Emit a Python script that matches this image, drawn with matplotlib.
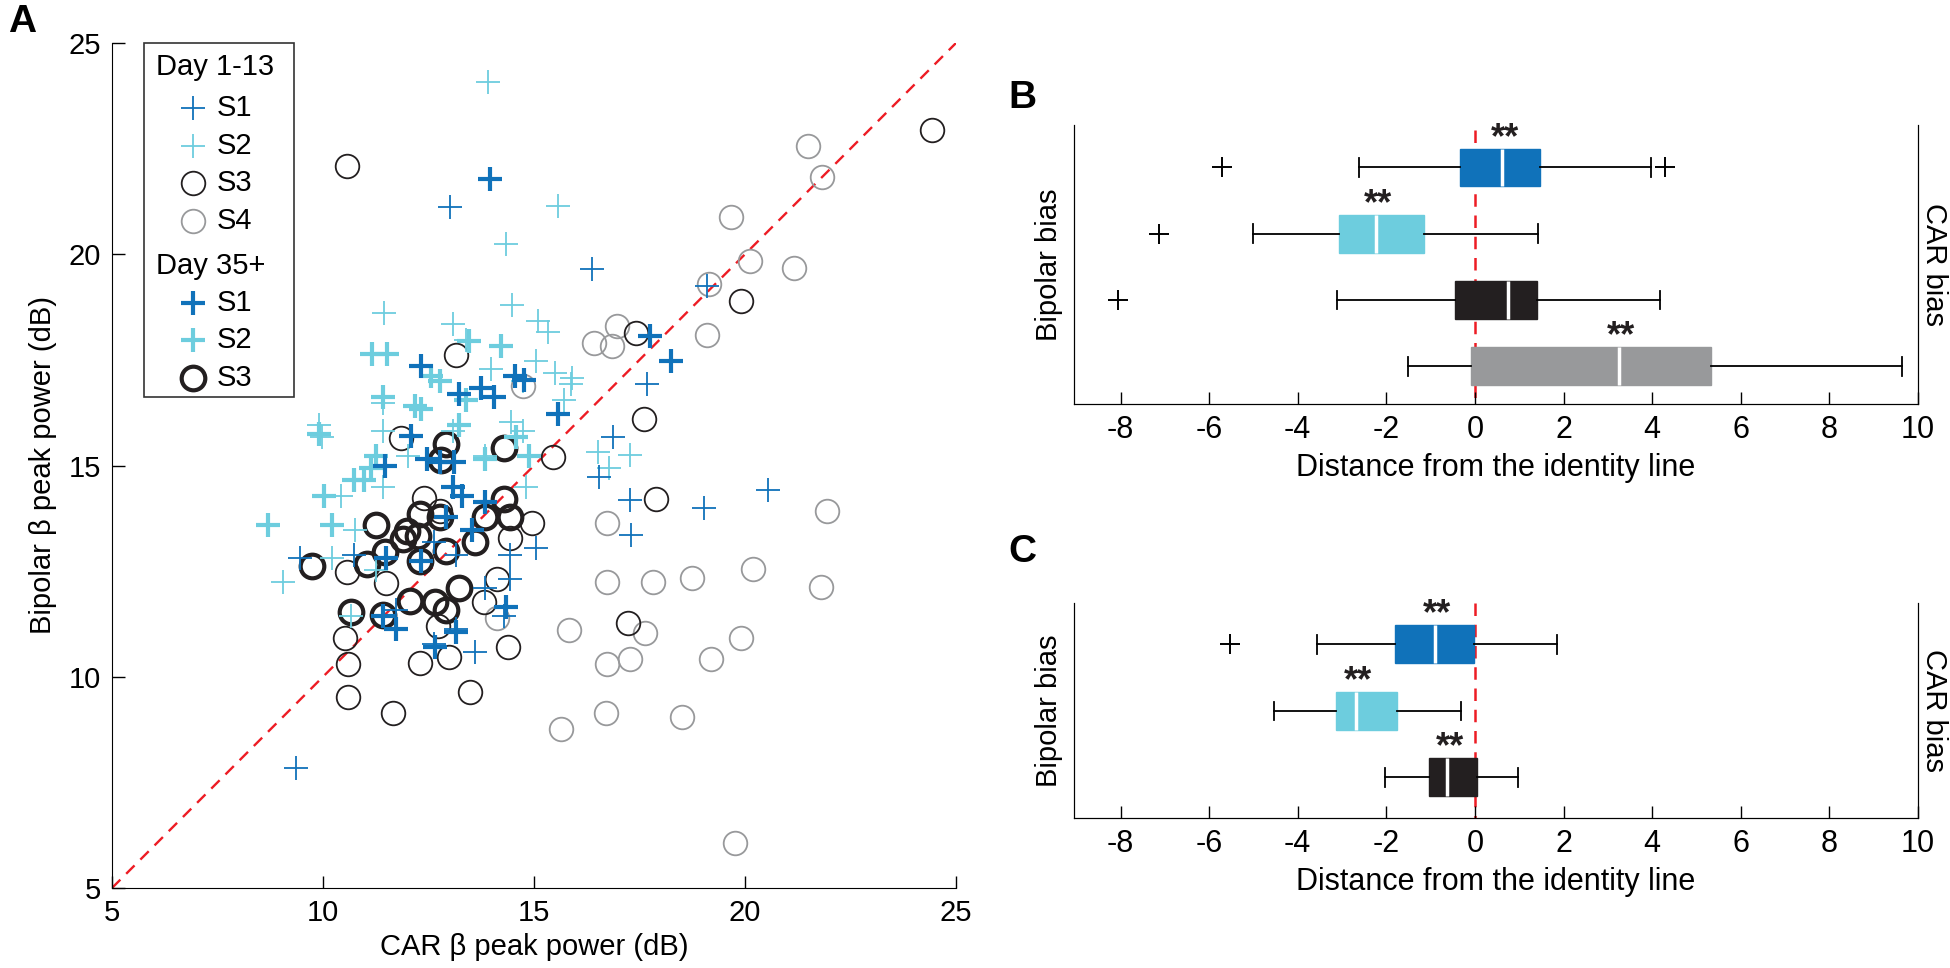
import matplotlib
matplotlib.use("Agg")
import matplotlib.pyplot as plt
from matplotlib import font_manager
from matplotlib.patches import Rectangle
from matplotlib.lines import Line2D

# ---- data: panel A (CAR vs bipolar beta peak power, dB) ----
s1_early_x = [13.0, 16.37, 19.11, 17.68, 16.88, 16.55, 17.27, 17.30, 19.04, 20.55, 9.35, 14.43,
              15.04, 13.60, 12.62, 13.15, 13.83, 11.72, 9.45, 10.74, 14.43, 14.28, 13.15, 12.62]
s1_early_y = [21.11, 19.65, 19.25, 16.92, 15.67, 14.72, 14.18, 13.36, 13.99, 14.43, 7.85, 12.89,
              13.04, 10.58, 10.77, 11.14, 12.09, 11.58, 12.82, 12.89, 12.31, 11.43, 12.89, 13.19]
s2_early_x = [13.91, 15.57, 14.33, 14.48, 11.45, 13.08, 15.09, 15.34, 13.38, 15.04, 15.49, 15.91,
              13.98, 9.91, 9.98, 11.42, 12.02, 10.43, 10.75, 9.05, 11.42, 13.08, 13.83, 14.46,
              14.74, 16.52, 17.27, 16.77, 14.81, 15.72, 15.87, 11.42, 14.74, 10.21, 10.66, 11.26]
s2_early_y = [24.08, 21.15, 20.25, 18.79, 18.60, 18.35, 18.41, 18.16, 17.98, 17.47, 17.18, 17.06,
              17.28, 15.96, 15.67, 15.82, 15.23, 14.28, 13.48, 12.24, 14.50, 15.82, 15.23, 16.04,
              15.82, 15.31, 15.26, 14.94, 14.50, 16.55, 16.92, 16.48, 16.99, 12.82, 11.43, 12.53]
s3_early_x = [10.58, 24.43, 19.90, 17.60, 17.88, 17.42, 17.23, 15.46, 13.14, 11.84, 10.58, 10.52,
              10.60, 10.60, 11.66, 12.30, 12.98, 13.48, 14.39, 14.12, 13.82, 11.50, 12.40, 14.96,
              14.43, 12.73, 12.77]
s3_early_y = [22.08, 22.94, 18.89, 16.10, 14.21, 18.14, 11.27, 15.19, 17.62, 15.64, 12.49, 10.91,
              10.29, 9.52, 9.15, 10.32, 10.47, 9.63, 10.70, 12.31, 11.76, 12.22, 14.24, 13.63,
              13.29, 11.21, 13.92]
s4_early_x = [21.50, 21.83, 19.67, 20.12, 21.15, 19.14, 19.11, 16.97, 16.43, 16.85, 14.74, 21.95,
              16.73, 16.73, 17.83, 18.75, 20.20, 21.80, 15.82, 17.63, 19.91, 16.73, 17.27, 19.19,
              16.70, 15.64, 18.51, 19.76, 14.13]
s4_early_y = [22.57, 21.84, 20.89, 19.84, 19.68, 19.30, 18.10, 18.30, 17.89, 17.84, 16.87, 13.92,
              13.63, 12.24, 12.24, 12.34, 12.56, 12.12, 11.11, 11.04, 10.92, 10.29, 10.41, 10.41,
              9.14, 8.76, 9.05, 6.07, 11.39]
s1_late_x = [13.95, 17.75, 18.24, 12.32, 14.55, 14.77, 13.75, 13.23, 14.06, 15.57, 12.09, 11.46,
             12.47, 12.77, 13.11, 13.08, 13.30, 13.83, 12.92, 13.53, 12.32, 11.72, 13.15, 14.33,
             12.65, 11.42, 11.49]
s1_late_y = [21.78, 18.06, 17.47, 17.35, 17.13, 17.02, 16.84, 16.70, 16.62, 16.23, 15.70, 14.99,
             15.16, 15.09, 15.09, 14.50, 14.28, 14.14, 13.77, 13.48, 12.75, 11.14, 11.07, 11.65,
             10.70, 11.43, 12.82]
s2_late_x = [8.70, 9.91, 10.03, 10.21, 10.74, 11.16, 11.51, 11.42, 11.26, 12.32, 12.55, 12.77,
             13.45, 14.21, 13.23, 13.83, 12.17, 13.38, 14.58, 14.89, 11.14, 10.96]
s2_late_y = [13.60, 15.75, 14.28, 13.60, 14.65, 17.65, 17.65, 16.62, 15.23, 16.33, 17.11, 16.99,
             17.94, 17.84, 15.96, 15.16, 16.40, 16.55, 15.67, 15.23, 14.94, 14.65]
s3_late_x = [9.75, 10.66, 11.25, 11.43, 12.06, 12.65, 12.92, 12.92, 12.80, 14.28, 14.28, 13.83,
             14.43, 13.60, 13.23, 11.46, 12.00, 12.30, 12.25, 12.77, 12.92, 12.30, 11.04, 11.90]
s3_late_y = [12.63, 11.54, 13.58, 11.46, 11.80, 11.78, 11.58, 15.50, 15.12, 15.42, 14.21, 13.77,
             13.77, 13.19, 12.09, 12.95, 13.45, 13.85, 13.33, 13.77, 12.97, 12.75, 12.68, 13.26]

# ---- data: panels B and C (distance from identity line), rows top to bottom ----
b_labels = ["S1", "S2", "S3", "S4"]
b_whislo = [-2.61, -5.00, -3.12, -1.51]
b_q1 = [-0.34, -3.06, -0.45, -0.09]
b_med = [0.62, -2.23, 0.74, 3.25]
b_q3 = [1.47, -1.15, 1.39, 5.33]
b_whishi = [3.97, 1.43, 4.18, 9.65]
b_fliers = [[-5.72, 4.30], [-7.14], [-8.06], []]
b_signif = [True, True, False, True]

c_labels = ["S1", "S2", "S3"]
c_whislo = [-3.56, -4.53, -2.03]
c_q1 = [-1.80, -3.13, -1.04]
c_med = [-0.91, -2.69, -0.62]
c_q3 = [-0.03, -1.75, 0.05]
c_whishi = [1.85, -0.32, 0.98]
c_fliers = [[-5.54], [], []]
c_signif = [True, True, True]

dist_ticks = [-8, -6, -4, -2, 0, 2, 4, 6, 8, 10]

BLUE = "#1072BA"
CYAN = "#6DCDDE"
BLACK = "#231F20"
GRAY = "#98999B"
RED = "#ED1C24"
subj_colors = {"S1": BLUE, "S2": CYAN, "S3": BLACK, "S4": GRAY}

names = {f.name for f in font_manager.fontManager.ttflist}
base_font = "Liberation Sans" if "Liberation Sans" in names else "DejaVu Sans"
narrow_font = "Liberation Sans Narrow" if "Liberation Sans Narrow" in names else base_font
plt.rcParams["font.family"] = base_font
plt.rcParams["font.size"] = 21
plt.rcParams["axes.unicode_minus"] = False

W, H = 1950, 968
fig = plt.figure(figsize=(W / 100, H / 100), dpi=100)


def px_axes(left, top, right, bottom):
    return fig.add_axes([left / W, 1 - bottom / H, (right - left) / W, (bottom - top) / H])


# ---------------- panel A ----------------
ax = px_axes(112, 43, 956, 888)
ax.plot([5, 25], [5, 25], color=RED, lw=1.7, dashes=(5, 3.5), zorder=1)

ms = 17
ax.plot(s4_early_x, s4_early_y, "o", ms=ms, mfc="none", mec=GRAY, mew=1.3, zorder=2)
ax.plot(s3_early_x, s3_early_y, "o", ms=ms, mfc="none", mec=BLACK, mew=1.3, zorder=2)
ax.plot(s3_late_x, s3_late_y, "o", ms=ms, mfc="none", mec=BLACK, mew=3.0, zorder=2)
ax.plot(s2_early_x, s2_early_y, "+", ms=ms, color=CYAN, mew=1.3, zorder=3)
ax.plot(s2_late_x, s2_late_y, "+", ms=ms, color=CYAN, mew=3.0, zorder=3)
ax.plot(s1_early_x, s1_early_y, "+", ms=ms, color=BLUE, mew=1.3, zorder=3)
ax.plot(s1_late_x, s1_late_y, "+", ms=ms, color=BLUE, mew=3.0, zorder=3)

ax.set_xlim(5, 25)
ax.set_ylim(5, 25)
ax.set_xticks([5, 10, 15, 20, 25])
ax.set_yticks([5, 10, 15, 20, 25])
ax.tick_params(direction="in", length=9, width=1, labelsize=21, pad=8)
for side in ("top", "right"):
    ax.spines[side].set_visible(False)
ax.set_xlabel("CAR β peak power (dB)", fontsize=21, labelpad=4)
ax.set_ylabel("Bipolar β peak power (dB)", fontsize=21, labelpad=8)

# legend, drawn by hand in axes fraction
ax.add_patch(Rectangle((0.038, 0.581), 0.178, 0.419, transform=ax.transAxes,
                       fill=False, ec="#333333", lw=1.2, zorder=5, clip_on=False))
legend_rows = [
    ("Day 1-13", None, None, 0.9716),
    ("S1", "+", (BLUE, 1.3), 0.923),
    ("S2", "+", (CYAN, 1.3), 0.878),
    ("S3", "o", (BLACK, 1.3), 0.834),
    ("S4", "o", (GRAY, 1.3), 0.789),
    ("Day 35+", None, None, 0.736),
    ("S1", "+", (BLUE, 3.0), 0.692),
    ("S2", "+", (CYAN, 3.0), 0.649),
    ("S3", "o", (BLACK, 3.0), 0.604),
]
for text, marker, style, y in legend_rows:
    if marker is None:
        ax.text(0.052, y, text, transform=ax.transAxes, fontsize=21, va="center", ha="left")
        continue
    col, lw = style
    if marker == "o":
        ax.add_line(Line2D([0.096], [y], transform=ax.transAxes, marker="o", ms=ms,
                           mfc="none", mec=col, mew=lw, ls="none", zorder=6))
    else:
        ax.add_line(Line2D([0.096], [y], transform=ax.transAxes, marker="+", ms=ms,
                           color=col, mew=lw, ls="none", zorder=6))
    ax.text(0.124, y, text, transform=ax.transAxes, fontsize=21, va="center", ha="left")


# ---------------- panels B and C ----------------
def bias_panel(ax, labels, whislo, q1, med, q3, whishi, fliers, signif, ylim, red_top):
    n = len(labels)
    pos = list(range(1, n + 1))
    ax.plot([0, 0], [red_top, ylim[0]], color=RED, lw=1.8, dashes=(5, 3.5), zorder=1)
    stats = []
    for i in range(n):
        stats.append(dict(whislo=whislo[i], q1=q1[i], med=med[i], q3=q3[i],
                          whishi=whishi[i], fliers=fliers[i], label=labels[i]))
    art = ax.bxp(stats, positions=pos, widths=0.57, orientation="horizontal",
                 patch_artist=True, showfliers=True, manage_ticks=False,
                 boxprops=dict(lw=1.0),
                 medianprops=dict(color="white", lw=2.5),
                 whiskerprops=dict(color="black", lw=1.3),
                 capprops=dict(color="black", lw=1.3),
                 capwidths=0.28,
                 flierprops=dict(marker="+", ms=14, mec="black", mew=1.4))
    for patch, lab in zip(art["boxes"], labels):
        patch.set_facecolor(subj_colors[lab])
        patch.set_edgecolor(subj_colors[lab])
        patch.set_zorder(2)
    for i in range(n):
        if signif[i]:
            ax.text(med[i] + 0.05, pos[i] - 0.44, "**", ha="center", va="center",
                    fontsize=26, fontweight="bold", color=BLACK)
    ax.set_ylim(*ylim)
    ax.set_xlim(-9.05, 10)
    ax.set_xticks(dist_ticks)
    ax.set_yticks([])
    ax.spines["top"].set_visible(False)
    ax.tick_params(axis="x", direction="in", length=9, width=1, pad=8)
    for t in ax.get_xticklabels():
        t.set_family(narrow_font)
        t.set_fontsize(22)
    ax.set_xlabel("Distance from the identity line", family=narrow_font, fontsize=22, labelpad=6)
    ax.set_ylabel("Bipolar bias", fontsize=21, labelpad=8)
    ax2 = ax.twinx()
    ax2.set_yticks([])
    ax2.spines["top"].set_visible(False)
    ax.text(1.019, 0.5, "CAR bias", transform=ax.transAxes, rotation=270,
            ha="center", va="center", fontsize=21)


ax_b = px_axes(1074, 125, 1918, 404)
bias_panel(ax_b, b_labels, b_whislo, b_q1, b_med, b_q3, b_whishi, b_fliers, b_signif,
           (4.57, 0.36), 0.44)
ax_c = px_axes(1074, 603, 1918, 818)
bias_panel(ax_c, c_labels, c_whislo, c_q1, c_med, c_q3, c_whishi, c_fliers, c_signif,
           (3.61, 0.38), 0.38)

# panel letters
fig.text(8 / W, 1 - 22 / H, "A", fontsize=28, fontweight="bold", va="center", ha="left")
fig.text(1008 / W, 1 - 98 / H, "B", fontsize=28, fontweight="bold", va="center", ha="left")
fig.text(1008 / W, 1 - 552 / H, "C", fontsize=28, fontweight="bold", va="center", ha="left")

fig.savefig("out.png", dpi=100)
